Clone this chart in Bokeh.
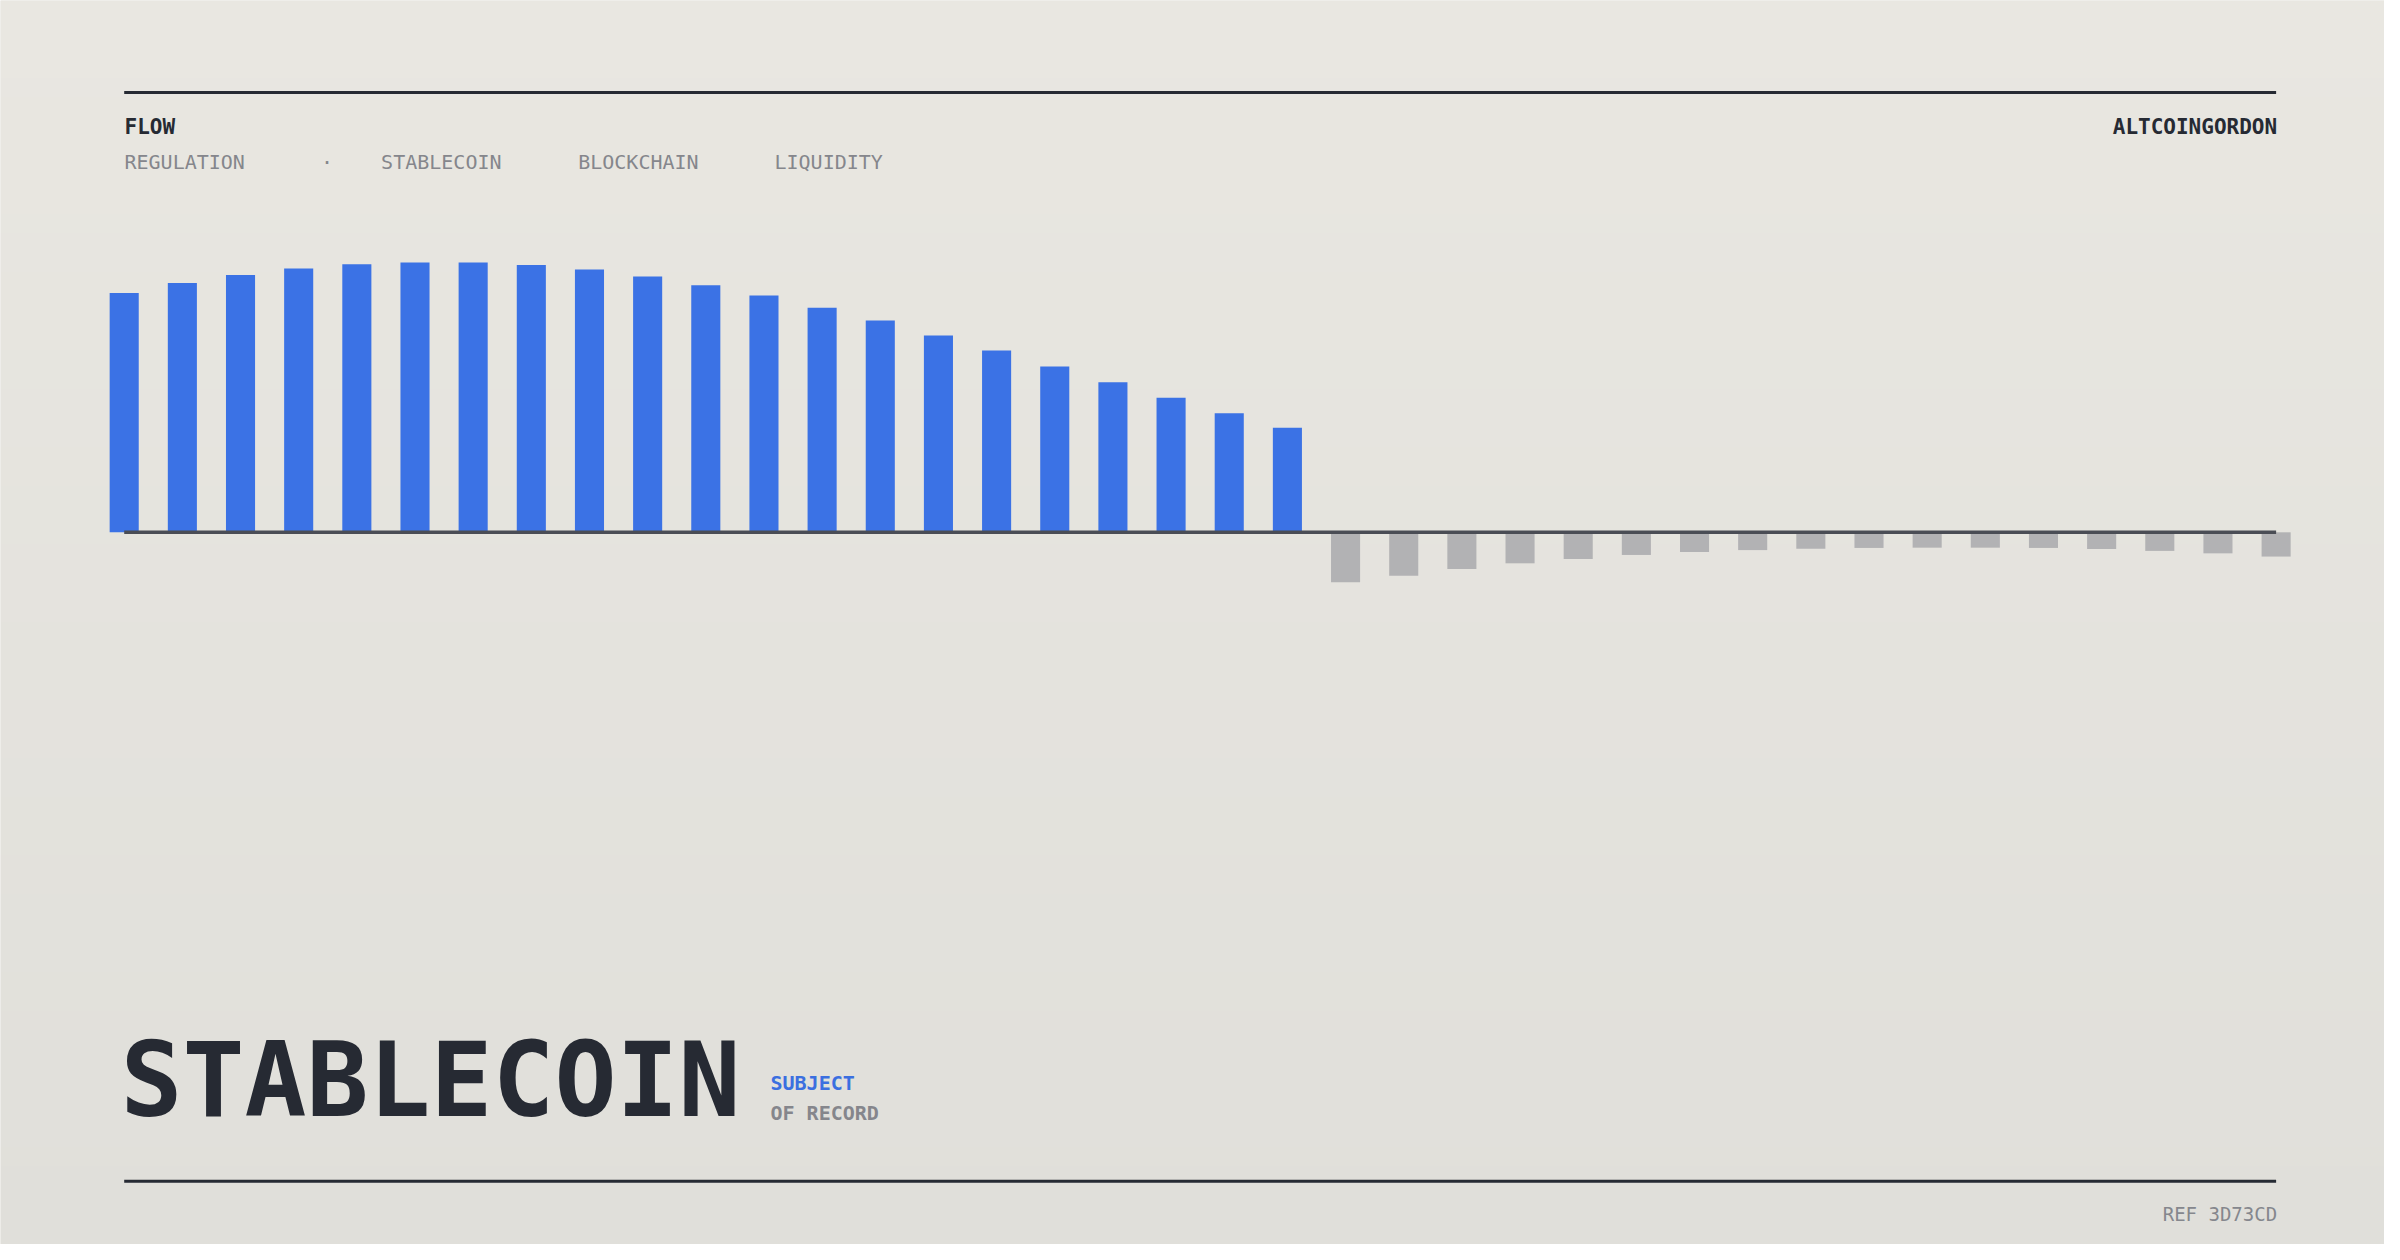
import numpy as np
from bokeh.plotting import figure
from bokeh.models import Range1d, Label, BoxAnnotation, ColumnDataSource
from bokeh.embed import file_html
from bokeh.resources import INLINE

# ---------------- data ----------------
inflow = [88.7, 92.4, 95.4, 97.8, 99.4, 100.0, 100.0, 99.1, 97.4, 94.8, 91.6,
          87.8, 83.3, 78.5, 73.0, 67.4, 61.5, 55.6, 49.9, 44.1, 38.8]
outflow = [-18.5, -16.1, -13.6, -11.5, -9.9, -8.4, -7.3, -6.6, -6.1, -5.8,
           -5.7, -5.7, -5.8, -6.2, -6.9, -7.8, -9.0]
tags = ["REGULATION", "·", "STABLECOIN", "BLOCKCHAIN", "LIQUIDITY"]
kicker = "FLOW"
brand = "ALTCOINGORDON"
title = "STABLECOIN"
sub1 = "SUBJECT"
sub2 = "OF RECORD"
ref = "REF 3D73CD"

# ---------------- layout ----------------
W, H = 2384, 1244
PX_PER_X = 58.16          # px per bar slot
X0 = 123.7                # screen x of first bar centre
PX_PER_Y = 2.697          # px per value unit
BASE = 531.8              # screen y (from top) of zero line

n_in, n_out = len(inflow), len(outflow)
n = n_in + n_out
xs_in = list(range(n_in))
xs_out = list(range(n_in, n))

x_range = Range1d(-X0 / PX_PER_X, (W - X0) / PX_PER_X)
y_range = Range1d(-(H - BASE) / PX_PER_Y, BASE / PX_PER_Y)

p = figure(width=W, height=H, x_range=x_range, y_range=y_range,
           output_backend="svg", toolbar_location=None,
           x_axis_type=None, y_axis_type=None, min_border=0,
           outline_line_color=None, background_fill_color="#e6e4de",
           border_fill_color="#e6e4de")
p.grid.visible = False

# background gradient
rows = 128
top_c = np.array([233, 231, 225], dtype=float)
bot_c = np.array([224, 223, 218], dtype=float)
img = np.empty((rows, 1), dtype=np.uint32)
view = img.view(dtype=np.uint8).reshape((rows, 1, 4))
for i in range(rows):
    t = i / (rows - 1)          # 0 bottom -> 1 top
    c = bot_c + (top_c - bot_c) * t
    view[i, 0, 0:3] = np.round(c).astype(np.uint8)
    view[i, 0, 3] = 255
p.image_rgba(image=[img], x=x_range.start, y=y_range.start,
             dw=x_range.end - x_range.start, dh=y_range.end - y_range.start,
             level="image")

# bars
src_in = ColumnDataSource(dict(x=xs_in, top=inflow))
src_out = ColumnDataSource(dict(x=xs_out, top=outflow))
p.vbar(x="x", top="top", bottom=0, width=0.5, source=src_in,
       fill_color="#3b72e5", line_color=None)
p.vbar(x="x", top="top", bottom=0, width=0.5, source=src_out,
       fill_color="#b2b2b4", line_color=None)

# zero line
p.segment(x0=[0], y0=[0], x1=[n - 1], y1=[0], line_color="#4a4d55", line_width=3.4)

# rules (screen units, y measured from bottom)
def rule(y_from_top, thick=3):
    return BoxAnnotation(left=X0, right=X0 + (n - 1) * PX_PER_X,
                         top=H - (y_from_top - thick / 2), bottom=H - (y_from_top + thick / 2),
                         left_units="screen", right_units="screen",
                         top_units="screen", bottom_units="screen",
                         fill_color="#262a33", fill_alpha=1.0, line_color=None,
                         level="overlay")

p.add_layout(rule(92))
p.add_layout(rule(1180.7))

MONO = "DejaVu Sans Mono"
K = 0.36   # baseline correction (fraction of font size)

def lab(txt, x, base_from_top, size, color, style="normal", align="left"):
    y_top = base_from_top - K * size
    p.add_layout(Label(x=x, y=H - y_top, x_units="screen", y_units="screen",
                       text=txt, text_font=MONO, text_font_size=f"{size}px",
                       text_color=color, text_font_style=style,
                       text_align=align, text_baseline="alphabetic"))

right_edge = X0 + (n - 1) * PX_PER_X

lab(kicker, 124, 134.3, 21, "#262a33", "bold")
lab(brand, right_edge + 1, 134.3, 21, "#262a33", "bold", "right")

tag_x = [124, 326.4, 380.6, 577.7, 774]
for t, x in zip(tags, tag_x):
    lab(t, x, 168.3, 20, "#85868c", "normal", "center" if t == "·" else "left")

lab(title, 120, 1116.7, 103, "#262a33", "bold")
lab(sub1, 770, 1090, 20, "#3b6fe0", "bold")
lab(sub2, 770, 1119.5, 20, "#85868c", "bold")
lab(ref, right_edge + 1, 1220, 19, "#85878d", "normal", "right")

open("out.html", "w").write(file_html(p, INLINE))
